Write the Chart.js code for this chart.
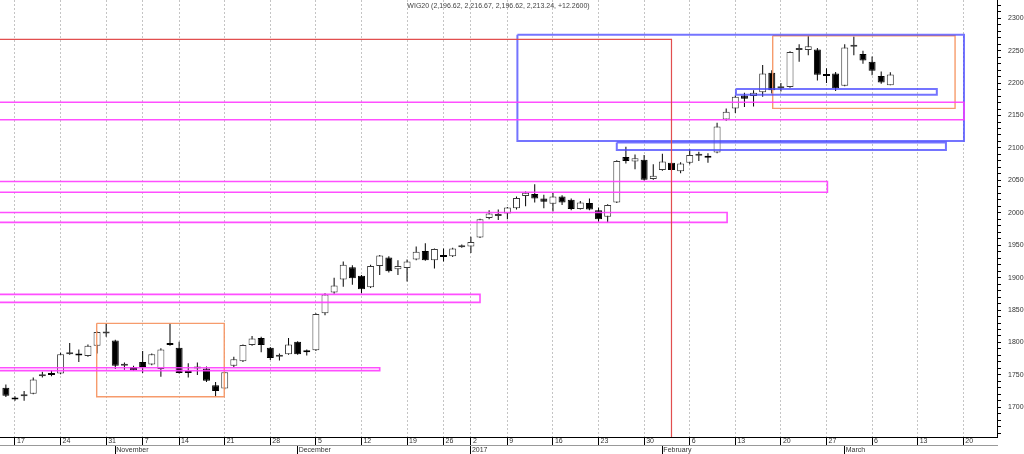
<!DOCTYPE html>
<html>
<head>
<meta charset="utf-8">
<script src="https://cdn.jsdelivr.net/npm/chart.js@4.4.0/dist/chart.umd.min.js"></script>
<style>
  html, body { margin: 0; padding: 0; background: #fff; }
  canvas { display: block; }
</style>
</head>
<body>
<canvas id="wigChart" width="1024" height="454"></canvas>
<script>
// WIG20 daily sessions, first one is Fri 14 Oct 2016 (session index -1)
const firstSession = -1;
const opens = [
  1730, 1715, 1717, 1721, 1748, 1752, 1752, 1782, 1783, 1779, 1795, 1814,
  1803, 1764, 1762, 1770, 1766, 1759, 1798, 1792, 1754, 1760, 1760, 1734,
  1729, 1764, 1771, 1796, 1807, 1792, 1778, 1782, 1801, 1787, 1788, 1845,
  1877, 1897, 1916, 1903, 1885, 1918, 1931, 1913, 1915, 1928, 1941, 1927,
  1935, 1933, 1947, 1948, 1962, 1992, 1995, 1999, 2007, 2026, 2029, 2022,
  2014, 2025, 2020, 2006, 2015, 2004, 1994, 2016, 2086, 2079, 2082, 2052,
  2066, 2077, 2064, 2077, 2088, 2087, 2093, 2144, 2161, 2181, 2180, 2186,
  2216, 2192, 2194, 2251, 2251, 2252, 2212, 2215, 2196, 2256, 2245, 2233,
  2211, 2196.62
];
const highs = [
  1735, 1717, 1725, 1746, 1755, 1757, 1784, 1799, 1789, 1797, 1817, 1830,
  1804, 1769, 1764, 1787, 1783, 1791, 1830, 1801, 1768, 1769, 1763, 1739,
  1755, 1778, 1797, 1810, 1809, 1793, 1783, 1807, 1802, 1789, 1845, 1876,
  1900, 1925, 1919, 1904, 1920, 1935, 1933, 1927, 1928, 1948, 1953, 1945,
  1945, 1946, 1951, 1963, 1991, 2004, 2005, 2009, 2025, 2033, 2044, 2028,
  2031, 2027, 2022, 2018, 2022, 2008, 2013, 2081, 2102, 2090, 2089, 2075,
  2091, 2078, 2078, 2098, 2094, 2092, 2139, 2161, 2181, 2185, 2189, 2228,
  2220, 2200, 2249, 2260, 2273, 2254, 2223, 2217, 2260, 2272, 2250, 2241,
  2218, 2216.67
];
const lows = [
  1716, 1710, 1710, 1720, 1746, 1748, 1751, 1781, 1770, 1778, 1783, 1809,
  1759, 1758, 1756, 1753, 1765, 1747, 1795, 1752, 1746, 1750, 1739, 1716,
  1728, 1762, 1770, 1795, 1785, 1773, 1772, 1781, 1781, 1780, 1787, 1842,
  1875, 1886, 1889, 1876, 1884, 1904, 1908, 1904, 1894, 1927, 1926, 1914,
  1925, 1932, 1946, 1938, 1961, 1990, 1989, 1990, 2005, 2010, 2016, 2007,
  2002, 2012, 2004, 2005, 2004, 1986, 1985, 2015, 2076, 2067, 2050, 2051,
  2065, 2064, 2061, 2075, 2080, 2077, 2092, 2142, 2154, 2163, 2164, 2179,
  2184, 2187, 2193, 2233, 2243, 2204, 2200, 2188, 2195, 2243, 2230, 2212,
  2199, 2196.62
];
const closes = [
  1718, 1712, 1719, 1743, 1749, 1750, 1782, 1785, 1780, 1795, 1816, 1815,
  1764, 1766, 1757, 1762, 1782, 1789, 1796, 1753, 1753, 1760, 1741, 1725,
  1754, 1774, 1796, 1806, 1796, 1776, 1779, 1797, 1782, 1785, 1844, 1874,
  1888, 1920, 1899, 1882, 1918, 1934, 1910, 1918, 1925, 1940, 1927, 1944,
  1932, 1945, 1948, 1955, 1990, 1999, 1998, 2008, 2023, 2031, 2022, 2017,
  2025, 2016, 2006, 2016, 2005, 1990, 2012, 2080, 2080, 2084, 2051, 2057,
  2079, 2066, 2076, 2089, 2089, 2085, 2133, 2156, 2179, 2176, 2185, 2215,
  2189, 2193, 2248, 2253, 2257, 2213, 2211, 2192, 2255, 2258, 2235, 2219,
  2201, 2213.24
];

// week ticks (session index of each week's first session) and their labels
const weekTicks = [0, 5, 10, 14, 18, 23, 28, 33, 38, 43, 47, 50, 54, 59, 64, 69, 74, 79, 84, 89, 94, 99, 104];
const weekLabels = ['17', '24', '31', '7', '14', '21', '28', '5', '12', '19', '26', '2', '9', '16', '23', '30', '6', '13', '20', '27', '6', '13', '20'];
const monthTicks = [11, 31, 50, 71, 91];
const monthLabels = ['November', 'December', '2017', 'February', 'March'];

// price axis: labelled levels, minor ticks every 10
const priceLabels = [1700, 1750, 1800, 1850, 1900, 1950, 2000, 2050, 2100, 2150, 2200, 2250, 2300];
const minorStep = 10;

const titleText = 'WIG20 (2,196.62, 2,216.67, 2,196.62, 2,213.24, +12.2600)';

// drawn boxes: [fromSession, toSession, upperLevel, lowerLevel]
const pinkBoxes = [
  [-5, 104.08, 2170.4, 2143.6],
  [-5, 89.1, 2048.2, 2031.6],
  [-5, 78.1, 2000.4, 1985.3],
  [-5, 51.0, 1874.2, 1861.9],
  [-5, 40.0, 1761.0, 1756.5]
];
const blueBoxes = [
  [55.1, 104.08, 2274.7, 2110.7],
  [66.0, 102.1, 2108.4, 2096.8],
  [79.07, 101.1, 2190.9, 2182.1]
];
const orangeBoxes = [
  [8.96, 22.95, 1829.5, 1716.3],
  [83.1, 103.1, 2273.0, 2161.1]
];
const redBoxes = [
  [-5, 72.0, 2267.6, 1600]
];

const xMin = -1.645, xMax = 107.7;
const yMin = 1654.2, yMax = 2328.2;

const fontFamily = "'Liberation Sans', Arial, sans-serif";

function boxPoints(b) {
  return [
    { x: b[0], y: b[2] }, { x: b[1], y: b[2] },
    { x: b[1], y: b[3] }, { x: b[0], y: b[3] },
    { x: b[0], y: b[2] }
  ];
}

function boxSet(boxes, color, width) {
  return boxes.map(b => ({
    type: 'line',
    data: boxPoints(b),
    borderColor: color,
    borderWidth: width,
    pointRadius: 0,
    fill: false,
    tension: 0,
    order: 0
  }));
}

const sessions = opens.map((_, i) => i + firstSession);
const isUp = opens.map((o, i) => closes[i] >= o);

const priceTicks = [];
for (let v = Math.ceil(yMin / minorStep) * minorStep; v <= yMax; v += minorStep) {
  priceTicks.push({ value: v });
}

const titlePlugin = {
  id: 'topTitle',
  afterDraw(chart) {
    const { ctx, chartArea } = chart;
    ctx.save();
    ctx.font = '7px ' + fontFamily;
    ctx.fillStyle = '#444';
    ctx.textAlign = 'center';
    ctx.textBaseline = 'middle';
    ctx.fillText(titleText, (chartArea.left + chartArea.right) / 2, chartArea.top + 6);
    ctx.restore();
  }
};

const ctx = document.getElementById('wigChart').getContext('2d');

new Chart(ctx, {
  type: 'bar',
  data: {
    datasets: [
      ...boxSet(redBoxes, 'rgba(224, 70, 70, 0.95)', 1.2),
      ...boxSet(pinkBoxes, 'rgba(255, 60, 255, 0.9)', 1.6),
      ...boxSet(blueBoxes, 'rgba(70, 70, 255, 0.75)', 2),
      ...boxSet(orangeBoxes, 'rgba(245, 150, 100, 0.95)', 1.4),
      {
        label: 'body',
        data: sessions.map((s, i) => ({ x: s, y: [opens[i], closes[i]] })),
        backgroundColor: isUp.map(u => u ? '#ffffff' : '#000000'),
        borderColor: isUp.map(u => u ? '#3a3a3a' : '#000000'),
        borderWidth: 1,
        borderSkipped: false,
        barThickness: 7,
        minBarLength: 2,
        inflateAmount: 0,
        grouped: false,
        order: 1
      },
      {
        label: 'wick',
        data: sessions.map((s, i) => ({ x: s, y: [lows[i], highs[i]] })),
        backgroundColor: '#000000',
        borderWidth: 0,
        barThickness: 1,
        inflateAmount: 0,
        grouped: false,
        order: 2
      }
    ]
  },
  options: {
    responsive: false,
    animation: false,
    layout: { padding: 0, autoPadding: false },
    plugins: {
      legend: { display: false },
      tooltip: { enabled: false }
    },
    scales: {
      x: {
        type: 'linear',
        position: 'bottom',
        min: xMin,
        max: xMax,
        bounds: 'data',
        offset: false,
        weight: 0,
        afterBuildTicks: s => { s.ticks = weekTicks.map(v => ({ value: v })); },
        afterFit: s => { s.height = 8; s.paddingLeft = 0; s.paddingRight = 0; },
        ticks: {
          callback: (v, i) => weekLabels[i],
          align: 'start',
          labelOffset: 2,
          padding: -8,
          autoSkip: false,
          maxRotation: 0,
          color: '#333',
          font: { family: fontFamily, size: 7 }
        },
        grid: {
          offset: false,
          color: '#c4c4c4',
          tickLength: 8,
          tickColor: '#000',
          tickBorderDash: []
        },
        border: { color: '#000', dash: [2, 2] }
      },
      x2: {
        type: 'linear',
        position: 'bottom',
        min: xMin,
        max: xMax,
        bounds: 'data',
        offset: false,
        weight: 1,
        afterBuildTicks: s => { s.ticks = monthTicks.map(v => ({ value: v })); },
        afterFit: s => { s.height = 9; s.paddingLeft = 0; s.paddingRight = 0; },
        ticks: {
          callback: (v, i) => monthLabels[i],
          align: 'start',
          labelOffset: 1,
          padding: -8,
          autoSkip: false,
          maxRotation: 0,
          color: '#333',
          font: { family: fontFamily, size: 7 }
        },
        grid: {
          offset: false,
          drawOnChartArea: false,
          tickLength: 9,
          tickColor: '#000'
        },
        border: { color: '#999' }
      },
      y: {
        type: 'linear',
        position: 'right',
        min: yMin,
        max: yMax,
        bounds: 'data',
        beginAtZero: false,
        afterBuildTicks: s => { s.ticks = priceTicks.map(t => ({ value: t.value })); },
        afterFit: s => { s.width = 27; s.paddingTop = 0; s.paddingBottom = 0; },
        ticks: {
          autoSkip: false,
          padding: 7,
          callback: v => (priceLabels.includes(v) ? String(v) : ''),
          color: '#333',
          font: { family: fontFamily, size: 7 }
        },
        grid: {
          drawOnChartArea: false,
          tickLength: 4,
          tickColor: '#000'
        },
        border: { color: '#000' }
      }
    }
  },
  plugins: [titlePlugin]
});
</script>
</body>
</html>
